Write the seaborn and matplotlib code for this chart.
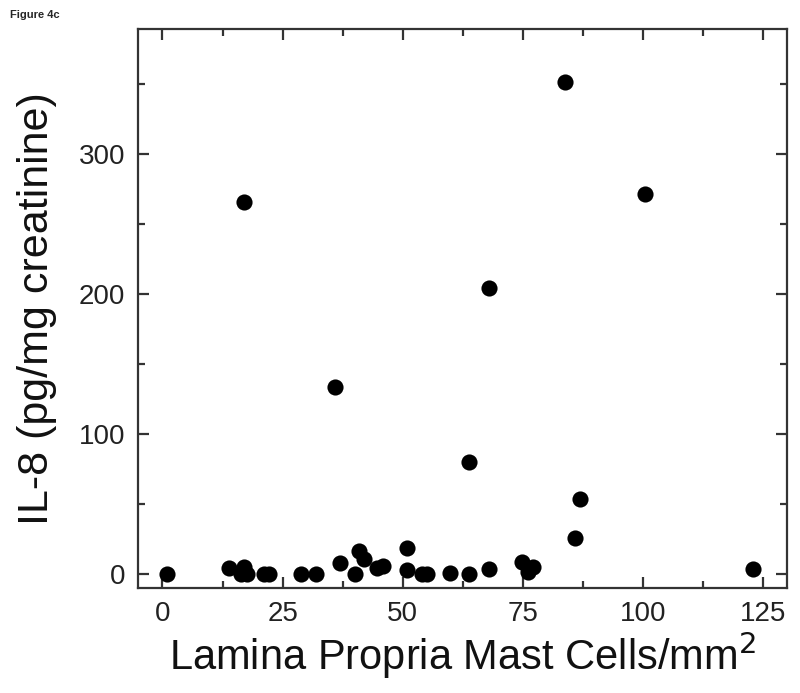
import matplotlib
matplotlib.use("Agg")
import matplotlib.pyplot as plt
import pandas as pd
import seaborn as sns
from matplotlib.ticker import MultipleLocator

# -------------------------------
# Data
# -------------------------------
mast_cells = [1.0, 13.9, 16.3, 17.0, 17.5, 21.1, 22.2, 28.9, 31.9, 36.9,
              40.0, 40.9, 41.9, 44.7, 45.9, 50.8, 50.8, 54.1, 55.1, 59.8,
              63.9, 67.9, 74.8, 76.0, 77.1, 85.9, 86.9, 122.9,
              17.0, 35.9, 67.9, 63.9, 83.8, 100.5]
il8 = [0.0, 4.7, 0.0, 5.0, 0.0, 0.0, 0.0, 0.0, 0.0, 7.9,
       0.0, 16.6, 10.7, 4.7, 5.9, 18.8, 3.1, 0.0, 0.0, 0.7,
       0.0, 3.8, 9.0, 1.9, 5.0, 25.7, 54.0, 3.8,
       265.7, 134.0, 204.7, 80.0, 351.4, 271.7]

x_ticks = [0, 25, 50, 75, 100, 125]
y_ticks = [0, 100, 200, 300]

df = pd.DataFrame({"mast": mast_cells, "il8": il8})

sns.set_theme(style="ticks")
plt.rcParams["font.family"] = ["Liberation Sans", "DejaVu Sans"]

fig = plt.figure(figsize=(8, 6.93), dpi=100)
ax = fig.add_axes([0.1725, 0.1515, 0.81125, 0.8067])

sns.scatterplot(data=df, x="mast", y="il8", ax=ax, color="black",
                s=135, edgecolor="black", linewidth=0, zorder=3)

ax.set_xlim(-5.1, 130)
ax.set_ylim(-9.8, 389.5)
ax.set_xticks(x_ticks)
ax.set_yticks(y_ticks)
ax.xaxis.set_minor_locator(MultipleLocator(12.5))
ax.yaxis.set_minor_locator(MultipleLocator(50))

for side in ["left", "right", "top", "bottom"]:
    ax.spines[side].set_visible(True)
    ax.spines[side].set_linewidth(1.6)
    ax.spines[side].set_color("#333333")

ax.tick_params(which="both", direction="in", top=True, right=True,
               color="#333333", width=1.6)
ax.tick_params(which="major", length=8, labelsize=20, pad=9,
               labelcolor="#222222")
ax.tick_params(which="minor", length=5)

ax.set_xlabel("Lamina Propria Mast Cells/mm$^2$", fontsize=30,
              color="#111111", labelpad=2)
ax.set_ylabel("IL-8 (pg/mg creatinine)", fontsize=31,
              color="#111111", labelpad=16)

fig.text(0.0125, 0.985, "Figure 4c", fontsize=8, fontweight="bold",
         va="top", ha="left")

fig.savefig("out.png", dpi=100)
